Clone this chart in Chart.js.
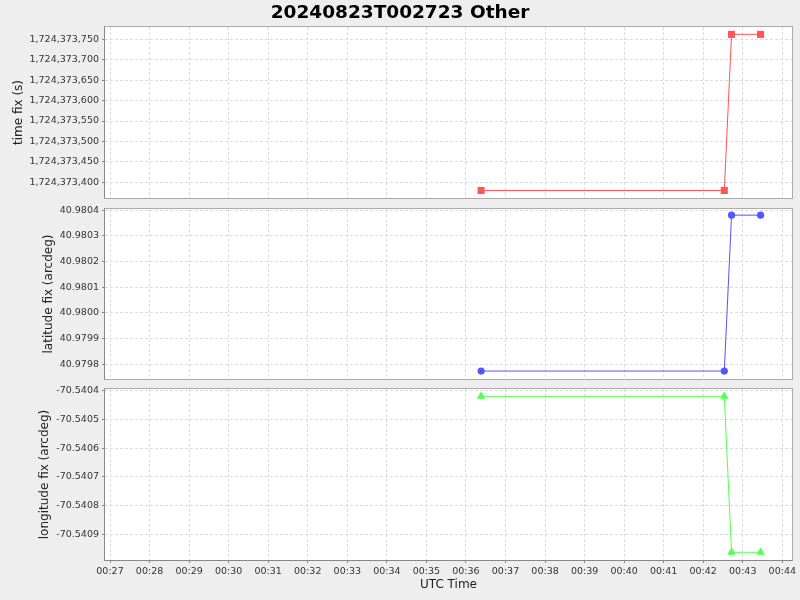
<!DOCTYPE html>
<html>
<head>
<meta charset="utf-8">
<script src="https://cdn.jsdelivr.net/npm/chart.js@4/dist/chart.umd.min.js"></script>
<style>
  body { margin: 0; background: #eeeeee; }
  #wrap { position: relative; width: 800px; height: 600px; background: #eeeeee; }
  canvas { position: absolute; left: 0; }
</style>
</head>
<body>
<div id="wrap">
  <canvas id="timeChart" width="800" height="203" style="top:0px"></canvas>
  <canvas id="latChart" width="800" height="181" style="top:203px"></canvas>
  <canvas id="lonChart" width="800" height="216" style="top:384px"></canvas>
</div>
<script>
// UTC time of each fix (hh:mm:ss)
const fixTimes = ['00:36:23', '00:42:32', '00:42:43', '00:43:27'];
const timeFix = [1724373380, 1724373380, 1724373762, 1724373762];
const latitudeFix = [40.979773, 40.979773, 40.980381, 40.980381];
const longitudeFix = [-70.5404196, -70.5404196, -70.5409631, -70.5409631];

const chartTitle = '20240823T002723 Other';
const xTitle = 'UTC Time';

function toSec(s) {
  const p = s.split(':').map(Number);
  return p[0] * 3600 + p[1] * 60 + p[2];
}
function pad(n) { return (n < 10 ? '0' : '') + n; }
function fmtTime(v) {
  const h = Math.floor(v / 3600), m = Math.floor(v / 60) % 60;
  return pad(h) + ':' + pad(m);
}

const xs = fixTimes.map(toSec);
const X_MIN = 1612.4, X_MAX = 2654.7;

function noPad(s) {
  s.paddingTop = 0; s.paddingBottom = 0; s.paddingLeft = 0; s.paddingRight = 0;
}

// white plot area + frame
const plotFrame = {
  id: 'plotFrame',
  beforeDraw(chart) {
    const a = chart.chartArea, ctx = chart.ctx;
    ctx.save();
    ctx.fillStyle = '#ffffff';
    ctx.fillRect(a.left, a.top, a.right - a.left, a.bottom - a.top);
    ctx.restore();
  },
  afterDraw(chart, args, opts) {
    const a = chart.chartArea, ctx = chart.ctx;
    ctx.save();
    ctx.lineWidth = 1;
    ctx.strokeStyle = '#aaaaaa';
    ctx.strokeRect(a.left - 0.5, a.top - 0.5, a.right - a.left + 1, a.bottom - a.top + 1);
    ctx.strokeStyle = '#888888';
    ctx.beginPath();
    ctx.moveTo(a.left - 0.5, a.top - 0.5);
    ctx.lineTo(a.left - 0.5, a.bottom + 0.5);
    if (opts.bottomAxis) ctx.lineTo(a.right + 0.5, a.bottom + 0.5);
    ctx.stroke();
    ctx.restore();
  }
};

function makePanel(id, values, color, style, radius, yOpts) {
  const showX = !!yOpts.showX;
  return new Chart(document.getElementById(id), {
    type: 'line',
    data: {
      datasets: [{
        data: xs.map((x, i) => ({x: x, y: values[i]})),
        borderColor: color,
        backgroundColor: color,
        borderWidth: 1,
        pointStyle: style,
        pointRadius: radius,
        pointHoverRadius: radius,
        pointBorderWidth: 0,
        tension: 0
      }]
    },
    options: {
      responsive: false,
      animation: false,
      layout: { padding: { left: yOpts.padLeft, right: 8, top: yOpts.padTop, bottom: yOpts.padBottom } },
      plugins: {
        legend: { display: false },
        tooltip: { enabled: false },
        plotFrame: { bottomAxis: showX },
        title: yOpts.title ? {
          display: true,
          text: chartTitle,
          color: '#000',
          font: { family: 'DejaVu Sans', size: 18.5, weight: 'bold', lineHeight: '22px' },
          padding: { top: 2, bottom: 3 }
        } : { display: false }
      },
      scales: {
        x: {
          type: 'linear',
          min: X_MIN,
          max: X_MAX,
          ticks: {
            display: showX,
            stepSize: 60,
            includeBounds: false,
            maxRotation: 0,
            autoSkip: false,
            padding: 3,
            color: '#333',
            font: { family: 'DejaVu Sans', size: 9.5 },
            callback: v => fmtTime(v)
          },
          grid: { color: '#dcdcdc', drawTicks: showX, tickLength: 3, tickColor: '#888' },
          border: { display: false, dash: [3, 2] },
          title: {
            display: showX,
            text: xTitle,
            color: '#222',
            font: { family: 'DejaVu Sans', size: 12 },
            padding: { top: 2, bottom: 8 }
          },
          afterFit: s => { s.height = showX ? 40 : 0; noPad(s); }
        },
        y: {
          min: yOpts.min,
          max: yOpts.max,
          ticks: {
            stepSize: yOpts.step,
            includeBounds: false,
            padding: 3,
            color: '#333',
            font: { family: 'DejaVu Sans', size: 9.5 },
            callback: yOpts.fmt
          },
          grid: { color: '#dcdcdc', tickLength: 3, tickColor: '#888' },
          border: { display: false, dash: [3, 2] },
          title: {
            display: true,
            text: yOpts.label,
            color: '#222',
            font: { family: 'DejaVu Sans', size: 12 },
            padding: { top: yOpts.titlePad || 0, bottom: 0 }
          },
          afterFit: s => { s.width = 105 - yOpts.padLeft; noPad(s); }
        }
      }
    },
    plugins: [plotFrame]
  });
}

makePanel('timeChart', timeFix, '#ff5555', 'rect', 5, {
  title: true, label: 'time fix (s)', padLeft: 8, titlePad: 4, padTop: 0, padBottom: 5,
  min: 1724373361.6, max: 1724373780, step: 50,
  fmt: v => Math.round(v).toLocaleString('en-US')
});
makePanel('latChart', latitudeFix, '#5555ff', 'circle', 3.6, {
  label: 'latitude fix (arcdeg)', padLeft: 42, padTop: 6, padBottom: 5,
  min: 40.979742, max: 40.980405, step: 0.0001,
  fmt: v => v.toFixed(4)
});
makePanel('lonChart', longitudeFix, '#55ff55', 'triangle', 5, {
  label: 'longitude fix (arcdeg)', padLeft: 38, padTop: 5, padBottom: 0, showX: true,
  min: -70.54099, max: -70.540394, step: 0.0001,
  fmt: v => v.toFixed(4)
});
</script>
</body>
</html>
